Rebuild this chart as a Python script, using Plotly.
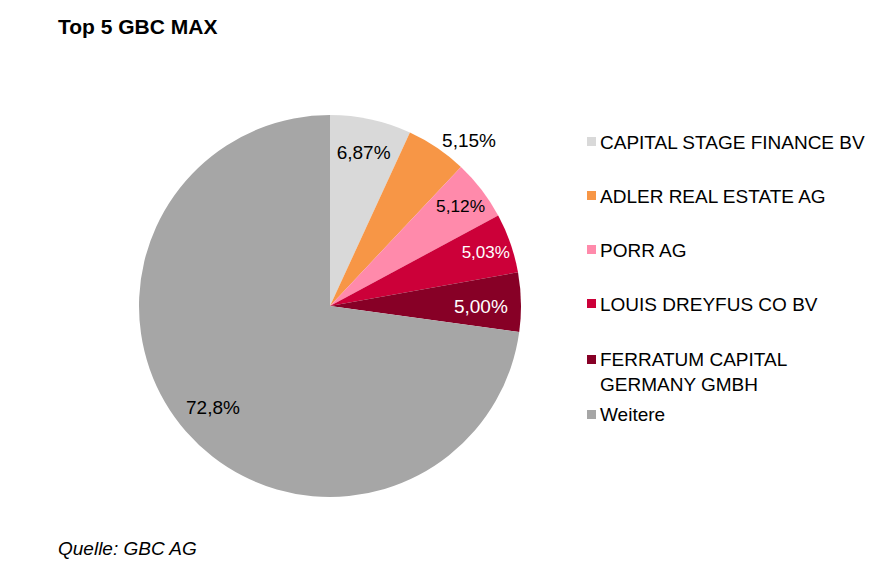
import math
import plotly.graph_objects as go

# Anteile der Top 5 Positionen im GBC MAX
labels = ['CAPITAL STAGE FINANCE BV', 'ADLER REAL ESTATE AG', 'PORR AG',
          'LOUIS DREYFUS CO BV', 'FERRATUM CAPITAL<br>GERMANY GMBH', 'Weitere']
values = [6.87, 5.15, 5.12, 5.03, 5.00, 72.8]
text_labels = ['6,87%', '5,15%', '5,12%', '5,03%', '5,00%', '72,8%']
colors = ['#d9d9d9', '#f79646', '#ff8aab', '#cc0039', '#870026', '#a6a6a6']
text_colors = ['black', 'black', 'black', 'white', 'white', 'black']
text_pos = ['inside', 'outside', 'inside', 'inside', 'inside', 'none']

W, H = 877, 581
OFF = 8  # body margin der html-seite
font = 'Liberation Sans, Arial, sans-serif'


def px(x):
    return (x - OFF) / W


def py(y):
    return (H - (y - OFF)) / H


# pie in pixeln (screen)
cx, cy, r = 330, 306, 191

fig = go.Figure()
fig.add_trace(go.Pie(
    labels=labels,
    values=values,
    text=text_labels,
    textinfo='text',
    textposition=text_pos,
    insidetextorientation='horizontal',
    textfont=dict(family=font, size=19, color=text_colors),
    outsidetextfont=dict(family=font, size=19, color='black'),
    marker=dict(colors=colors, line=dict(width=0)),
    sort=False,
    direction='clockwise',
    rotation=0,
    showlegend=False,
    domain=dict(x=[px(cx - r), px(cx + r)], y=[py(cy + r), py(cy - r)]),
))

# Label fuer "Weitere" weiter aussen auf der Winkelhalbierenden
total = sum(values)
mid = (sum(values[:-1]) + values[-1] / 2) / total * 2 * math.pi
lx = cx + 0.81 * r * math.sin(mid)
ly = cy - 0.81 * r * math.cos(mid)
fig.add_annotation(x=px(lx), y=py(ly), xref='paper', yref='paper',
                   text=text_labels[-1], showarrow=False,
                   xanchor='center', yanchor='middle',
                   font=dict(family=font, size=19, color=text_colors[-1]))

# eigene Legende rechts
leg_y = [141, 195, 249, 303, 359, 414]
for lab, col, y in zip(labels, colors, leg_y):
    fig.add_shape(type='rect', xref='paper', yref='paper',
                  x0=px(587), x1=px(596), y0=py(y + 5), y1=py(y - 4),
                  fillcolor=col, line=dict(width=0))
    fig.add_annotation(x=px(598), y=py(y - 11.5), xref='paper', yref='paper',
                       text=lab, showarrow=False, xanchor='left', yanchor='top',
                       align='left', font=dict(family=font, size=19, color='black'))

fig.add_annotation(x=px(56), y=py(27), xref='paper', yref='paper',
                   text='<b>Top 5 GBC MAX</b>', showarrow=False,
                   xanchor='left', yanchor='middle',
                   font=dict(family=font, size=21, color='black'))
fig.add_annotation(x=px(56), y=py(548), xref='paper', yref='paper',
                   text='<i>Quelle: GBC AG</i>', showarrow=False,
                   xanchor='left', yanchor='middle',
                   font=dict(family=font, size=19, color='black'))

fig.update_layout(width=W, height=H, margin=dict(l=0, r=0, t=0, b=0),
                  paper_bgcolor='white', plot_bgcolor='white')

fig.write_html('out.html')
